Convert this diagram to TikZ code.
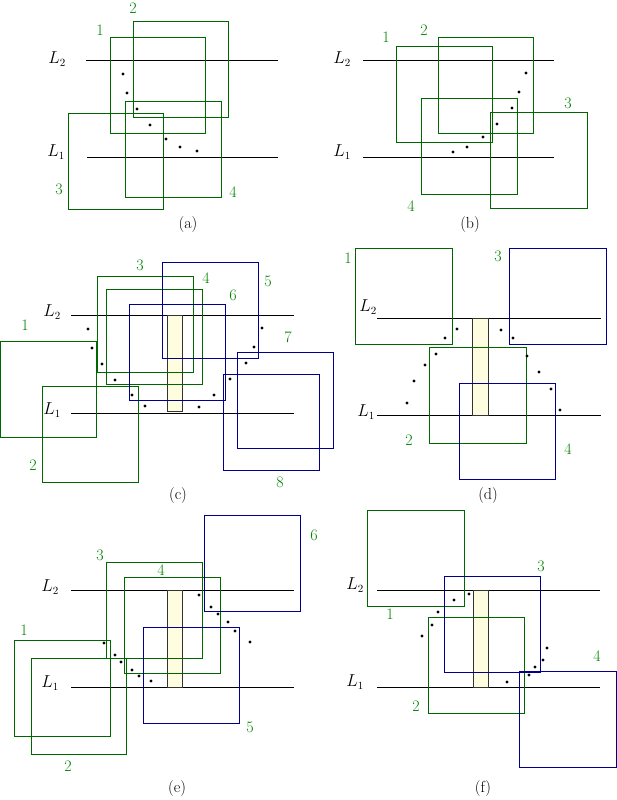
\documentclass[tikz,border=0pt]{standalone}
\begin{document}
\begin{tikzpicture}[x=1pt,y=-1pt,
  gbox/.style={draw=green!40!black,line width=0.8pt},
  bbox/.style={draw=blue!55!black,line width=0.8pt},
  lin/.style={draw=black,line width=0.8pt},
  bar/.style={draw=black!80,fill=yellow!12,line width=0.7pt},
  lab/.style={text=green!50!black,font=\fontsize{16}{18}\selectfont},
  llab/.style={font=\fontsize{16}{18}\selectfont},
  capt/.style={font=\fontsize{16}{18}\selectfont}]
\useasboundingbox (0,0) rectangle (617,800);
\newcommand{\dts}[1]{\foreach \p in {#1} \fill \p circle (1.6);}
% (a)
\draw[lin] (86,60) -- (278,60); \draw[lin] (87,157) -- (278,157);
\node[llab] at (57,59) {$L_2$}; \node[llab] at (56,152) {$L_1$};
\draw[gbox] (110,37) rectangle (205,133);
\draw[gbox] (133,21) rectangle (228,117);
\draw[gbox] (68,113) rectangle (163,209);
\draw[gbox] (125,101) rectangle (221,197);
\node[lab] at (100,30) {1}; \node[lab] at (133,8) {2}; \node[lab] at (59,189) {3}; \node[lab] at (233,192) {4};
\dts{(123,74),(127,93),(137,109),(150,125),(166,139),(180,147),(197,151)}
\node[capt] at (188,225) {(a)};
% (b)
\draw[lin] (363,60) -- (554,60); \draw[lin] (363,157) -- (554,157);
\node[llab] at (342,59) {$L_2$}; \node[llab] at (342,152) {$L_1$};
\draw[gbox] (396,46) rectangle (492,142);
\draw[gbox] (438,37) rectangle (533,133);
\draw[gbox] (490,112) rectangle (587,208);
\draw[gbox] (421,98) rectangle (517,194);
\node[lab] at (386,37) {1}; \node[lab] at (424,30) {2}; \node[lab] at (568,103) {3}; \node[lab] at (411,206) {4};
\dts{(526,73),(519,92),(512,108),(497,124),(483,137),(467,147),(453,152)}
\node[capt] at (470,225) {(b)};
% (c)
\draw[lin] (71,315) -- (294,315); \draw[lin] (71,413) -- (294,413);
\draw[bar] (167,315) rectangle (182,411);
\node[llab] at (52,312) {$L_2$}; \node[llab] at (52,410) {$L_1$};
\draw[gbox] (0,341) rectangle (96,437);
\draw[gbox] (42,386) rectangle (138,482);
\draw[gbox] (97,276) rectangle (193,372);
\draw[gbox] (106,289) rectangle (202,384);
\draw[bbox] (162,262) rectangle (258,358);
\draw[bbox] (129,304) rectangle (225,400);
\draw[bbox] (237,352) rectangle (333,448);
\draw[bbox] (223,374) rectangle (319,470);
\node[lab] at (25,325) {1}; \node[lab] at (33,465) {2}; \node[lab] at (140,265) {3}; \node[lab] at (206,278) {4};
\node[lab] at (268,281) {5}; \node[lab] at (233,295) {6}; \node[lab] at (288,337) {7}; \node[lab] at (280,482) {8};
\dts{(88,329),(92,348),(102,364),(115,380),(132,395),(145,406),(199,407),(214,395),(230,379),(246,363),(254,347),(262,328)}
\node[capt] at (178,496) {(c)};
% (d)
\draw[lin] (377,318) -- (601,318); \draw[lin] (377,415) -- (601,415);
\draw[bar] (472,318) rectangle (488,415);
\node[llab] at (368,307) {$L_2$}; \node[llab] at (366,412) {$L_1$};
\draw[gbox] (355,248) rectangle (452,344);
\draw[gbox] (429,347) rectangle (526,443);
\draw[bbox] (509,248) rectangle (606,344);
\draw[bbox] (459,383) rectangle (555,479);
\node[lab] at (348,258) {1}; \node[lab] at (409,440) {2}; \node[lab] at (498,256) {3}; \node[lab] at (568,449) {4};
\dts{(457,329),(445,338),(436,354),(425,365),(414,381),(407,403),(501,330),(513,338),(527,356),(539,372),(551,389),(560,410)}
\node[capt] at (488,496) {(d)};
% (e)
\draw[lin] (71,590) -- (294,590); \draw[lin] (71,687) -- (294,687);
\draw[bar] (167,590) rectangle (182,687);
\node[llab] at (50,587) {$L_2$}; \node[llab] at (50,683) {$L_1$};
\draw[gbox] (14,640) rectangle (110,736);
\draw[gbox] (31,658) rectangle (126,754);
\draw[gbox] (106,562) rectangle (202,658);
\draw[gbox] (124,577) rectangle (220,673);
\draw[bbox] (143,627) rectangle (239,723);
\draw[bbox] (204,515) rectangle (300,611);
\node[lab] at (24,630) {1}; \node[lab] at (68,766) {2}; \node[lab] at (100,555) {3}; \node[lab] at (161,570) {4};
\node[lab] at (250,727) {5}; \node[lab] at (314,535) {6};
\dts{(104,643),(115,655),(121,662),(132,670),(139,676),(151,681),(199,595),(211,607),(218,614),(228,622),(235,631),(250,642)}
\node[capt] at (177,788) {(e)};
% (f)
\draw[lin] (377,590) -- (600,590); \draw[lin] (377,687) -- (600,687);
\draw[bar] (473,590) rectangle (488,687);
\node[llab] at (355,585) {$L_2$}; \node[llab] at (355,682) {$L_1$};
\draw[gbox] (367,510) rectangle (464,606);
\draw[gbox] (428,617) rectangle (524,713);
\draw[bbox] (444,576) rectangle (540,672);
\draw[bbox] (519,671) rectangle (616,767);
\node[lab] at (390,614) {1}; \node[lab] at (416,706) {2}; \node[lab] at (541,566) {3}; \node[lab] at (597,656) {4};
\dts{(469,594),(454,600),(438,612),(432,625),(422,636),(507,682),(529,675),(535,667),(543,660),(547,648)}
\node[capt] at (483,788) {(f)};
\end{tikzpicture}
\end{document}
